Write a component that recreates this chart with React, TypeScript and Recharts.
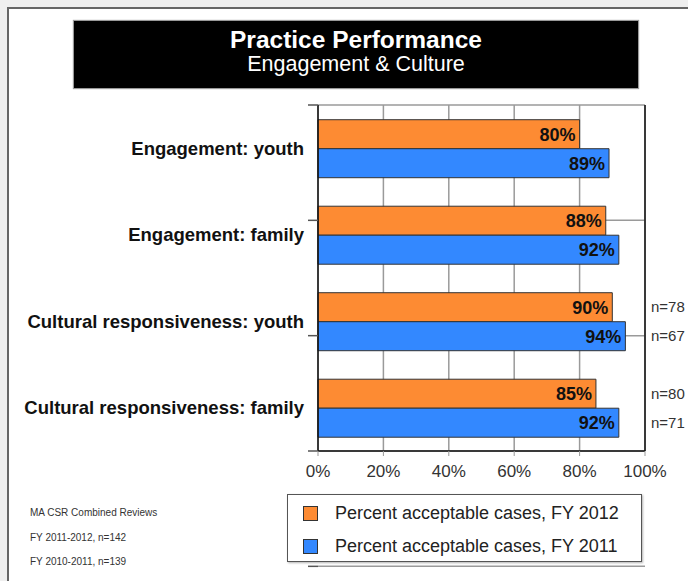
import React from 'react';
import { BarChart, Bar, XAxis, YAxis, CartesianGrid, Legend, LabelList, ReferenceLine } from 'recharts';

const categories = [
  'Engagement: youth',
  'Engagement: family',
  'Cultural responsiveness: youth',
  'Cultural responsiveness: family',
];
const seriesNames = ['Percent acceptable cases, FY 2012', 'Percent acceptable cases, FY 2011'];
const fy2012 = [80, 88, 90, 85];
const fy2011 = [89, 92, 94, 92];
const n2012 = [null, null, 78, 80];
const n2011 = [null, null, 67, 71];
const xTicks = [0, 20, 40, 60, 80, 100];
const bandTicks = [0, 1, 2, 3, 4];
const footnotes = ['MA CSR Combined Reviews', 'FY 2011-2012, n=142', 'FY 2010-2011, n=139'];

const data = categories.map((name, i) => ({
  name,
  fy2012: fy2012[i],
  fy2011: fy2011[i],
  n2012: n2012[i],
  n2011: n2011[i],
}));

const FONT = '"Liberation Sans", Arial, Helvetica, sans-serif';
const CHART_W = 688;
const CHART_H = 581;
const MARGIN = { top: 105, right: 43, bottom: 100, left: 0 };
const PLOT_RIGHT = CHART_W - MARGIN.right;

const ORANGE = '#fd8b33';
const BLUE = '#3388ff';

const NLabel = (props: any) => {
  const { y, height, value } = props;
  if (value == null) return null;
  return (
    <text x={PLOT_RIGHT + 6} y={y + height / 2} dy="0.35em" fontSize={15} fill="#333" fontFamily={FONT}>
      {`n=${value}`}
    </text>
  );
};

const LegendBox = (props: any) => {
  const items = [...(props.payload || [])].sort(
    (a: any, b: any) => seriesNames.indexOf(a.value) - seriesNames.indexOf(b.value)
  );
  return (
    <div
      style={{
        width: 353,
        height: 66,
        border: '1.5px solid #555',
        boxShadow: '1px 1px 2px rgba(0,0,0,0.3)',
        background: '#fff',
        fontFamily: FONT,
        position: 'relative',
      }}
    >
      {items.map((p: any, i: number) => (
        <div
          key={p.value}
          style={{ position: 'absolute', left: 15, top: 9 + i * 33, height: 18, display: 'flex', alignItems: 'center' }}
        >
          <div style={{ width: 13, height: 13, background: p.color, border: '1px solid #333' }} />
          <span style={{ marginLeft: 17, fontSize: 18, color: '#222', whiteSpace: 'nowrap' }}>{p.value}</span>
        </div>
      ))}
    </div>
  );
};

export default function App() {
  return (
    <div style={{ position: 'fixed', left: 0, top: 0, width: CHART_W, height: CHART_H, background: '#efefef', overflow: 'hidden' }}>
      <div
        style={{
          position: 'absolute',
          left: 7,
          top: 7,
          width: 720,
          height: 620,
          background: '#fff',
          borderTop: '2px solid #666',
          borderLeft: '2px solid #666',
        }}
      />
      <div
        style={{
          position: 'absolute',
          left: 74,
          top: 21,
          width: 564,
          height: 67,
          background: '#000',
          boxShadow: '0 0 1px 1px #999',
          color: '#fff',
          textAlign: 'center',
          fontFamily: FONT,
        }}
      >
        <div style={{ fontSize: 24.5, fontWeight: 'bold', marginTop: 5, lineHeight: '27px' }}>Practice Performance</div>
        <div style={{ fontSize: 21.5, lineHeight: '22px' }}>Engagement &amp; Culture</div>
      </div>

      {footnotes.map((t, i) => (
        <div
          key={t}
          style={{ position: 'absolute', left: 30, top: 507 + i * 24.5, fontSize: 10, color: '#333', fontFamily: FONT }}
        >
          {t}
        </div>
      ))}

      <div style={{ position: 'absolute', left: 0, top: 0 }}>
        <BarChart
          width={CHART_W}
          height={CHART_H}
          data={data}
          layout="vertical"
          margin={MARGIN}
          barCategoryGap="17%"
          barGap={0}
        >
          <CartesianGrid yAxisId="band" horizontalValues={bandTicks} stroke="#9a9a9a" strokeWidth={1.5} />
          <YAxis
            yAxisId="band"
            type="number"
            domain={[0, 4]}
            ticks={bandTicks}
            width={10}
            tickFormatter={() => ''}
            tickSize={10}
            tickMargin={0}
            tickLine={{ stroke: '#555', strokeWidth: 1.5 }}
            axisLine={false}
          />
          <YAxis
            yAxisId="cat"
            type="category"
            dataKey="name"
            width={308}
            tickLine={false}
            tickSize={0}
            tickMargin={4}
            axisLine={false}
            tick={{ fill: '#111', fontSize: 18.5, fontWeight: 'bold', fontFamily: FONT }}
          />
          <XAxis
            type="number"
            domain={[0, 100]}
            ticks={xTicks}
            tickFormatter={(v: number) => `${v}%`}
            height={30}
            tickSize={5}
            tickMargin={9}
            tickLine={{ stroke: '#999' }}
            axisLine={{ stroke: '#111', strokeWidth: 1.5 }}
            tick={{ fill: '#333', fontSize: 17, fontFamily: FONT }}
          />
          <ReferenceLine yAxisId="cat" x={0} stroke="#111" strokeWidth={1.5} />
          <ReferenceLine yAxisId="cat" x={100} stroke="#111" strokeWidth={1.5} />
          <Legend
            layout="horizontal"
            verticalAlign="middle"
            align="center"
            content={<LegendBox />}
            wrapperStyle={{ left: 287, top: 494, width: 356 }}
          />
          <Bar
            yAxisId="cat"
            dataKey="fy2012"
            name={seriesNames[0]}
            fill={ORANGE}
            stroke="#333"
            strokeWidth={1}
            isAnimationActive={false}
          >
            <LabelList
              dataKey="fy2012"
              position="insideRight"
              offset={4}
              formatter={(v: any) => `${v}%`}
              style={{ fill: '#111', fontSize: 18, fontWeight: 'bold', fontFamily: FONT }}
            />
            <LabelList dataKey="n2012" content={<NLabel />} />
          </Bar>
          <Bar
            yAxisId="cat"
            dataKey="fy2011"
            name={seriesNames[1]}
            fill={BLUE}
            stroke="#333"
            strokeWidth={1}
            isAnimationActive={false}
          >
            <LabelList
              dataKey="fy2011"
              position="insideRight"
              offset={4}
              formatter={(v: any) => `${v}%`}
              style={{ fill: '#111', fontSize: 18, fontWeight: 'bold', fontFamily: FONT }}
            />
            <LabelList dataKey="n2011" content={<NLabel />} />
          </Bar>
        </BarChart>
      </div>
    </div>
  );
}
